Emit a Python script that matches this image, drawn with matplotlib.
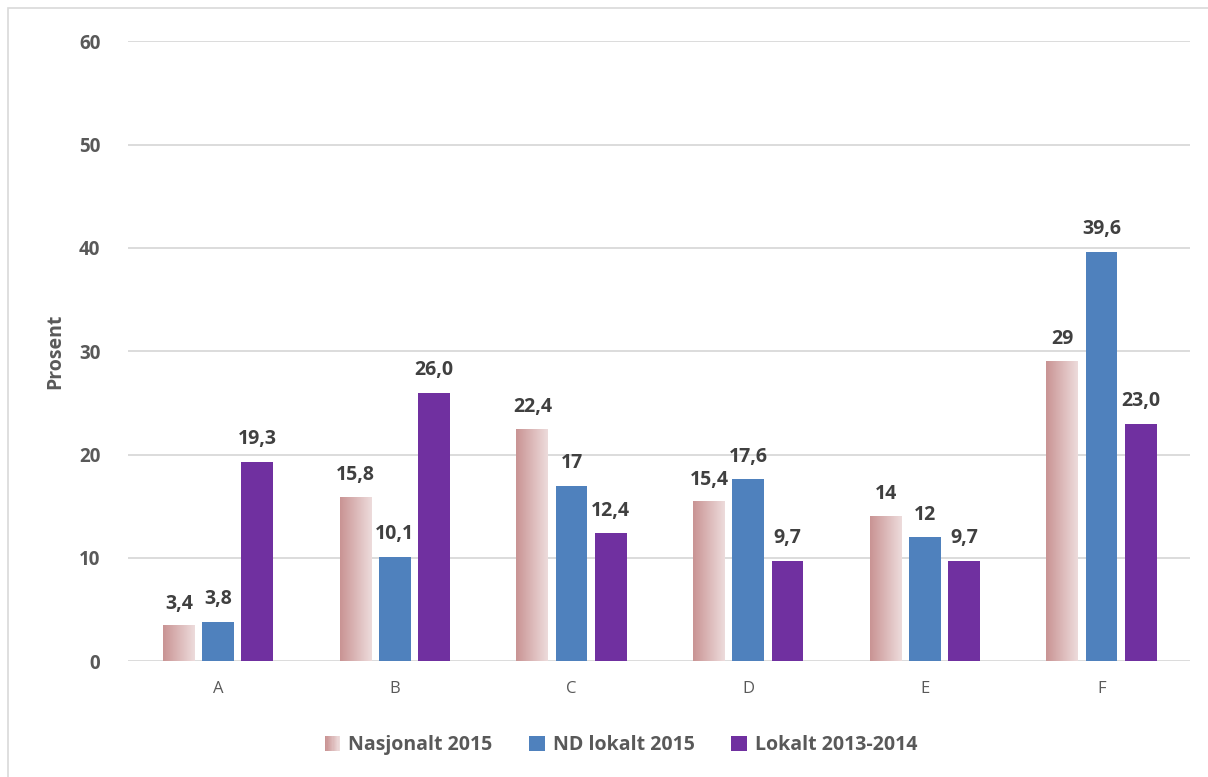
import numpy as np
import matplotlib.pyplot as plt
from matplotlib.patches import Rectangle
from matplotlib.legend_handler import HandlerBase
from matplotlib.colors import LinearSegmentedColormap

categories = ["A", "B", "C", "D", "E", "F"]
nasjonalt = [3.4, 15.8, 22.4, 15.4, 14, 29]
nd_lokalt = [3.8, 10.1, 17, 17.6, 12, 39.6]
lokalt = [19.3, 26.0, 12.4, 9.7, 9.7, 23.0]
nasjonalt_lbl = ["3,4", "15,8", "22,4", "15,4", "14", "29"]
nd_lokalt_lbl = ["3,8", "10,1", "17", "17,6", "12", "39,6"]
lokalt_lbl = ["19,3", "26,0", "12,4", "9,7", "9,7", "23,0"]
series_names = ["Nasjonalt 2015", "ND lokalt 2015", "Lokalt 2013-2014"]

GRAD_L = (0.79, 0.58, 0.58)
GRAD_R = (0.93, 0.86, 0.86)
BLUE = "#4f81bd"
PURPLE = "#7030a0"
TXT = "#595959"
LBL = "#404040"
FONT = ["Open Sans", "DejaVu Sans"]

grad_cmap = LinearSegmentedColormap.from_list("pink", [GRAD_L, GRAD_R])


class GradientHandler(HandlerBase):
    def create_artists(self, legend, orig_handle, xdescent, ydescent,
                       width, height, fontsize, trans):
        n = 12
        side = height * 1.0
        x0 = -xdescent + (width - side) / 2
        y0 = -ydescent + (height - side) / 2
        arts = []
        for i in range(n):
            r = Rectangle((x0 + i * side / n, y0), side / n + 0.05, side,
                          facecolor=grad_cmap(i / (n - 1)), edgecolor="none",
                          transform=trans)
            arts.append(r)
        return arts


def main():
    fig = plt.figure(figsize=(12.08, 7.77), dpi=100)
    ax = fig.add_axes([0.106, 0.149, 0.879, 0.798])

    # outer chart border
    fig.patches.append(Rectangle((8 / 1208, -0.1), 1.2, 1 - 8 / 777 + 0.1,
                                 transform=fig.transFigure, fill=False,
                                 edgecolor="#d9d9d9", linewidth=1.2))

    x = np.arange(len(categories))
    w = 0.18
    off = 0.222

    # gradient bars
    bars1 = ax.bar(x - off, nasjonalt, w, color="none", edgecolor="none", zorder=3)
    grad = np.linspace(0, 1, 64).reshape(1, -1)
    for b in bars1:
        x0 = b.get_x()
        ax.imshow(grad, cmap=grad_cmap, aspect="auto", zorder=3,
                  extent=(x0, x0 + b.get_width(), 0, b.get_height()),
                  interpolation="bilinear")
    bars2 = ax.bar(x, nd_lokalt, w, color=BLUE, zorder=3)
    bars3 = ax.bar(x + off, lokalt, w, color=PURPLE, zorder=3)

    for bars, lbls in ((bars1, nasjonalt_lbl), (bars2, nd_lokalt_lbl), (bars3, lokalt_lbl)):
        for b, t in zip(bars, lbls):
            ax.annotate(t, (b.get_x() + b.get_width() / 2, b.get_height()),
                        xytext=(0, 9), textcoords="offset points",
                        ha="center", va="bottom", fontsize=14,
                        fontweight="bold", color=LBL, family=FONT)

    ax.set_xlim(-0.51, 5.50)
    ax.set_ylim(0, 60)
    ax.set_aspect("auto")
    ax.set_yticks(range(0, 61, 10))
    ax.set_xticks(x)
    ax.set_xticklabels(categories, fontsize=12, color=TXT, family=FONT)
    for lab in ax.get_yticklabels():
        lab.set_fontweight("bold")
        lab.set_fontsize(13.5)
        lab.set_color(TXT)
        lab.set_family(FONT)
    ax.tick_params(axis="both", length=0)
    ax.tick_params(axis="y", pad=20)
    ax.tick_params(axis="x", pad=14)
    ax.grid(axis="y", color="#d9d9d9", linewidth=1.3, zorder=0)
    for s in ax.spines.values():
        s.set_visible(False)
    ax.set_ylabel("Prosent", fontsize=14, fontweight="bold", color=TXT,
                  family=FONT, labelpad=10)

    h1 = Rectangle((0, 0), 1, 1)
    h2 = Rectangle((0, 0), 1, 1, facecolor=BLUE)
    h3 = Rectangle((0, 0), 1, 1, facecolor=PURPLE)
    leg = fig.legend([h1, h2, h3], series_names, loc="center",
                     bbox_to_anchor=(0.514, 0.041), ncol=3, frameon=False,
                     handler_map={h1: GradientHandler()},
                     handlelength=0.8, handleheight=0.8, handletextpad=0.4,
                     columnspacing=1.9,
                     prop={"family": FONT, "weight": "bold", "size": 14})
    for t in leg.get_texts():
        t.set_color(TXT)

    fig.savefig("out.png", dpi=100)


if __name__ == "__main__":
    main()
